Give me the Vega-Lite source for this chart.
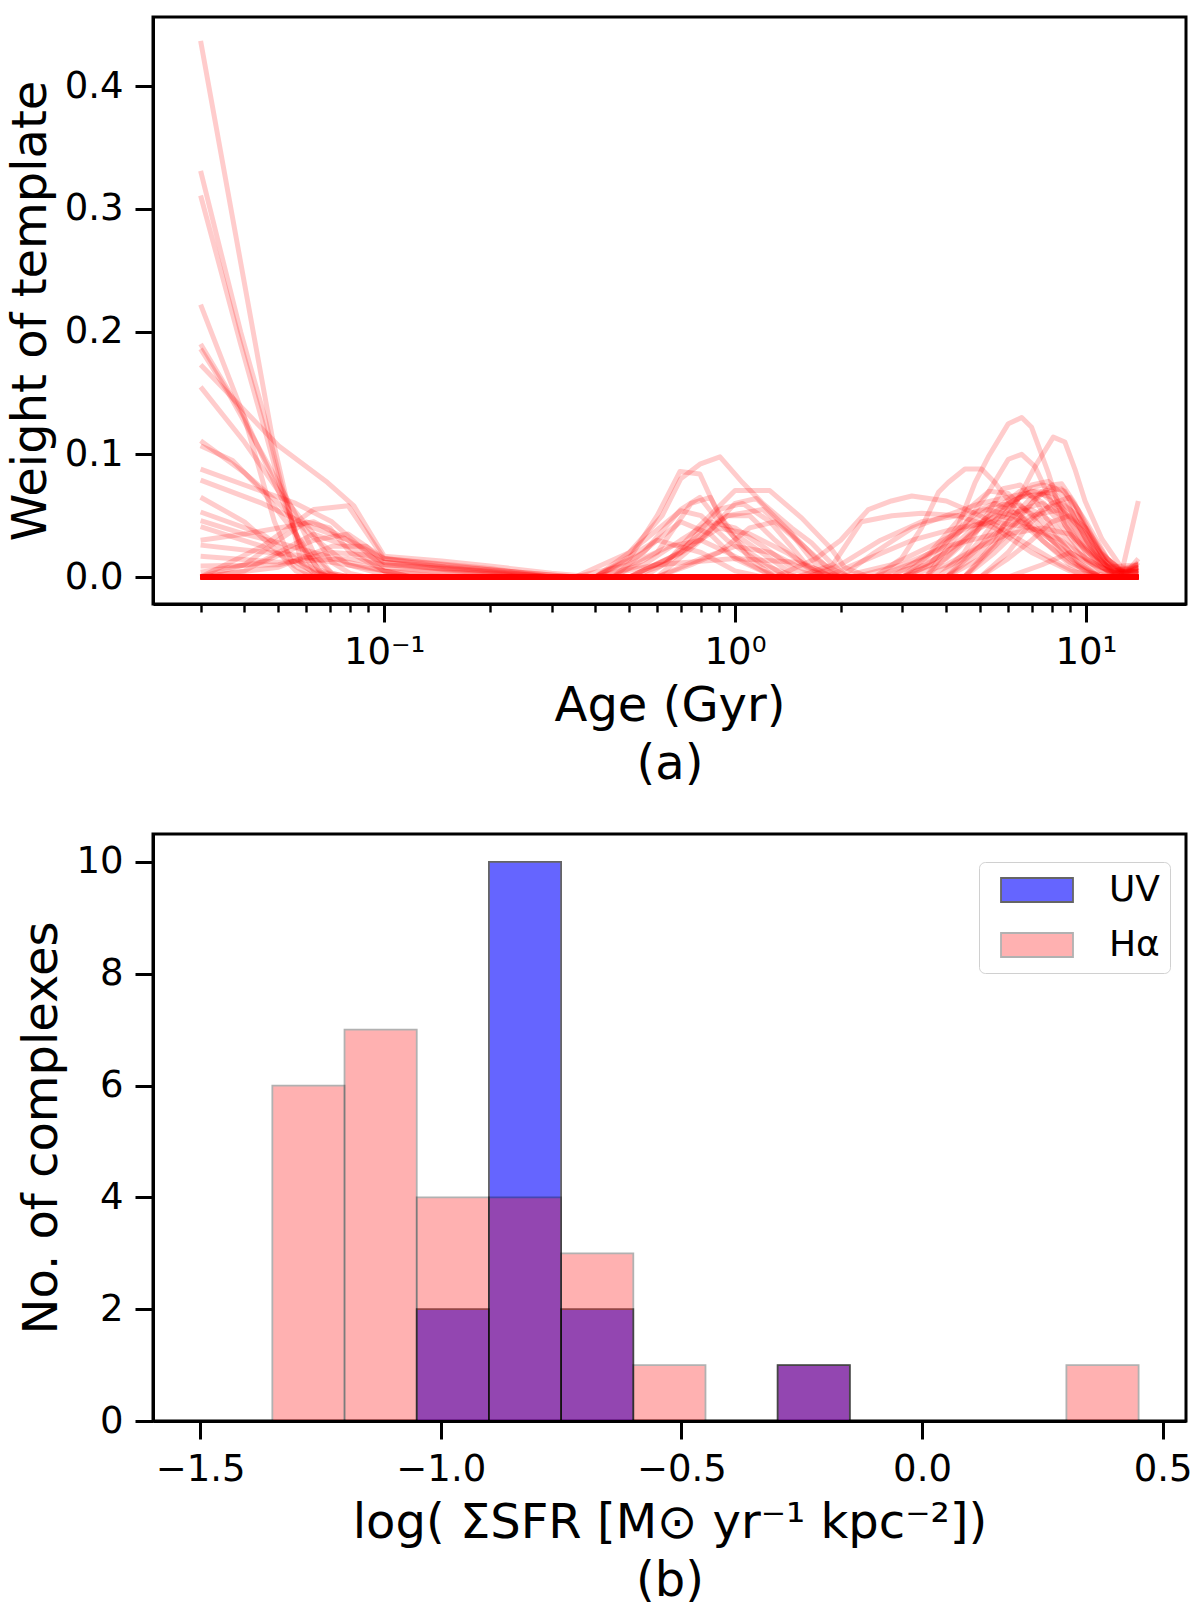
{
  "$schema": "https://vega.github.io/schema/vega-lite/v6.json",
  "description": "Template weights vs age (a) and histogram of SFR surface density (b)",
  "background": "white",
  "padding": {"left": 5, "top": 15, "right": 0, "bottom": 0},
  "spacing": 42,
  "config": {
    "font": "DejaVu Sans",
    "view": {"stroke": "black", "strokeWidth": 3},
    "axis": {
      "grid": false,
      "domainColor": "black",
      "domainWidth": 3,
      "tickColor": "black",
      "tickWidth": 3,
      "tickSize": 18,
      "labelFontSize": 37,
      "labelColor": "black",
      "labelPadding": 12,
      "titleFontSize": 48,
      "titleFontWeight": "normal",
      "titleColor": "black",
      "titlePadding": 9
    }
  },
  "vconcat": [
    {
      "width": 1033,
      "height": 587,
      "data": {
        "values": [
          {"id": "e1", "a": 0.03, "w": 0.437}, {"id": "e1", "a": 0.048, "w": 0.114}, {"id": "e1", "a": 0.058, "w": 0.012}, {"id": "e1", "a": 0.07, "w": 0}, {"id": "e1", "a": 14.1, "w": 0},
          {"id": "e2", "a": 0.03, "w": 0.331}, {"id": "e2", "a": 0.039, "w": 0.2}, {"id": "e2", "a": 0.0457, "w": 0.13}, {"id": "e2", "a": 0.051, "w": 0.075}, {"id": "e2", "a": 0.057, "w": 0.028}, {"id": "e2", "a": 0.063, "w": 0.005}, {"id": "e2", "a": 0.07, "w": 0}, {"id": "e2", "a": 14.1, "w": 0},
          {"id": "e3", "a": 0.03, "w": 0.311}, {"id": "e3", "a": 0.039, "w": 0.19}, {"id": "e3", "a": 0.0457, "w": 0.12}, {"id": "e3", "a": 0.051, "w": 0.07}, {"id": "e3", "a": 0.057, "w": 0.03}, {"id": "e3", "a": 0.065, "w": 0.006}, {"id": "e3", "a": 0.075, "w": 0}, {"id": "e3", "a": 14.1, "w": 0},
          {"id": "e4", "a": 0.03, "w": 0.222}, {"id": "e4", "a": 0.04, "w": 0.13}, {"id": "e4", "a": 0.0487, "w": 0.045}, {"id": "e4", "a": 0.055, "w": 0.01}, {"id": "e4", "a": 0.063, "w": 0}, {"id": "e4", "a": 14.1, "w": 0},
          {"id": "e5", "a": 0.03, "w": 0.19}, {"id": "e5", "a": 0.04, "w": 0.13}, {"id": "e5", "a": 0.05, "w": 0.07}, {"id": "e5", "a": 0.058, "w": 0.025}, {"id": "e5", "a": 0.066, "w": 0.004}, {"id": "e5", "a": 0.075, "w": 0}, {"id": "e5", "a": 14.1, "w": 0},
          {"id": "e6", "a": 0.03, "w": 0.186}, {"id": "e6", "a": 0.036, "w": 0.15}, {"id": "e6", "a": 0.045, "w": 0.1}, {"id": "e6", "a": 0.055, "w": 0.055}, {"id": "e6", "a": 0.063, "w": 0.02}, {"id": "e6", "a": 0.071, "w": 0.003}, {"id": "e6", "a": 0.08, "w": 0}, {"id": "e6", "a": 14.1, "w": 0},
          {"id": "e7", "a": 0.03, "w": 0.173}, {"id": "e7", "a": 0.05, "w": 0.107}, {"id": "e7", "a": 0.069, "w": 0.077}, {"id": "e7", "a": 0.082, "w": 0.058}, {"id": "e7", "a": 0.1, "w": 0.017}, {"id": "e7", "a": 0.146, "w": 0.013}, {"id": "e7", "a": 0.2, "w": 0.009}, {"id": "e7", "a": 0.3, "w": 0.003}, {"id": "e7", "a": 0.4, "w": 0}, {"id": "e7", "a": 14.1, "w": 0},
          {"id": "e8", "a": 0.03, "w": 0.155}, {"id": "e8", "a": 0.04, "w": 0.11}, {"id": "e8", "a": 0.05, "w": 0.07}, {"id": "e8", "a": 0.063, "w": 0.035}, {"id": "e8", "a": 0.071, "w": 0.012}, {"id": "e8", "a": 0.08, "w": 0.003}, {"id": "e8", "a": 0.089, "w": 0}, {"id": "e8", "a": 14.1, "w": 0},
          {"id": "e9", "a": 0.03, "w": 0.111}, {"id": "e9", "a": 0.04, "w": 0.085}, {"id": "e9", "a": 0.05, "w": 0.06}, {"id": "e9", "a": 0.063, "w": 0.032}, {"id": "e9", "a": 0.079, "w": 0.01}, {"id": "e9", "a": 0.1, "w": 0.002}, {"id": "e9", "a": 0.12, "w": 0}, {"id": "e9", "a": 14.1, "w": 0},
          {"id": "e10", "a": 0.03, "w": 0.107}, {"id": "e10", "a": 0.037, "w": 0.095}, {"id": "e10", "a": 0.045, "w": 0.07}, {"id": "e10", "a": 0.056, "w": 0.035}, {"id": "e10", "a": 0.063, "w": 0.015}, {"id": "e10", "a": 0.071, "w": 0.003}, {"id": "e10", "a": 0.08, "w": 0}, {"id": "e10", "a": 14.1, "w": 0},
          {"id": "e11", "a": 0.03, "w": 0.088}, {"id": "e11", "a": 0.04, "w": 0.075}, {"id": "e11", "a": 0.056, "w": 0.06}, {"id": "e11", "a": 0.071, "w": 0.045}, {"id": "e11", "a": 0.089, "w": 0.02}, {"id": "e11", "a": 0.1, "w": 0.008}, {"id": "e11", "a": 0.15, "w": 0.004}, {"id": "e11", "a": 0.25, "w": 0}, {"id": "e11", "a": 14.1, "w": 0},
          {"id": "e12", "a": 0.03, "w": 0.079}, {"id": "e12", "a": 0.045, "w": 0.06}, {"id": "e12", "a": 0.063, "w": 0.04}, {"id": "e12", "a": 0.079, "w": 0.03}, {"id": "e12", "a": 0.1, "w": 0.01}, {"id": "e12", "a": 0.2, "w": 0.005}, {"id": "e12", "a": 0.3, "w": 0}, {"id": "e12", "a": 14.1, "w": 0},
          {"id": "e13", "a": 0.03, "w": 0.065}, {"id": "e13", "a": 0.04, "w": 0.045}, {"id": "e13", "a": 0.05, "w": 0.02}, {"id": "e13", "a": 0.056, "w": 0.005}, {"id": "e13", "a": 0.063, "w": 0}, {"id": "e13", "a": 14.1, "w": 0},
          {"id": "e14", "a": 0.03, "w": 0.053}, {"id": "e14", "a": 0.045, "w": 0.035}, {"id": "e14", "a": 0.056, "w": 0.015}, {"id": "e14", "a": 0.063, "w": 0.003}, {"id": "e14", "a": 0.071, "w": 0}, {"id": "e14", "a": 14.1, "w": 0},
          {"id": "e15", "a": 0.03, "w": 0.046}, {"id": "e15", "a": 0.04, "w": 0.035}, {"id": "e15", "a": 0.05, "w": 0.028}, {"id": "e15", "a": 0.063, "w": 0.02}, {"id": "e15", "a": 0.079, "w": 0.012}, {"id": "e15", "a": 0.1, "w": 0.005}, {"id": "e15", "a": 0.15, "w": 0}, {"id": "e15", "a": 14.1, "w": 0},
          {"id": "e16", "a": 0.03, "w": 0.041}, {"id": "e16", "a": 0.045, "w": 0.025}, {"id": "e16", "a": 0.056, "w": 0.012}, {"id": "e16", "a": 0.063, "w": 0.004}, {"id": "e16", "a": 0.071, "w": 0}, {"id": "e16", "a": 14.1, "w": 0},
          {"id": "e17", "a": 0.03, "w": 0.026}, {"id": "e17", "a": 0.04, "w": 0.022}, {"id": "e17", "a": 0.056, "w": 0.018}, {"id": "e17", "a": 0.071, "w": 0.012}, {"id": "e17", "a": 0.1, "w": 0.005}, {"id": "e17", "a": 0.2, "w": 0.003}, {"id": "e17", "a": 0.3, "w": 0}, {"id": "e17", "a": 14.1, "w": 0},
          {"id": "e18", "a": 0.03, "w": 0.017}, {"id": "e18", "a": 0.05, "w": 0.012}, {"id": "e18", "a": 0.079, "w": 0.015}, {"id": "e18", "a": 0.1, "w": 0.01}, {"id": "e18", "a": 0.2, "w": 0.004}, {"id": "e18", "a": 0.3, "w": 0}, {"id": "e18", "a": 14.1, "w": 0},
          {"id": "e19", "a": 0.03, "w": 0.009}, {"id": "e19", "a": 0.05, "w": 0.01}, {"id": "e19", "a": 0.071, "w": 0.02}, {"id": "e19", "a": 0.089, "w": 0.018}, {"id": "e19", "a": 0.1, "w": 0.012}, {"id": "e19", "a": 0.2, "w": 0.006}, {"id": "e19", "a": 0.35, "w": 0}, {"id": "e19", "a": 14.1, "w": 0},
          {"id": "e20", "a": 0.03, "w": 0}, {"id": "e20", "a": 0.045, "w": 0.025}, {"id": "e20", "a": 0.063, "w": 0.055}, {"id": "e20", "a": 0.079, "w": 0.058}, {"id": "e20", "a": 0.1, "w": 0.015}, {"id": "e20", "a": 0.15, "w": 0.008}, {"id": "e20", "a": 0.3, "w": 0}, {"id": "e20", "a": 14.1, "w": 0},
          {"id": "e21", "a": 0.03, "w": 0.004}, {"id": "e21", "a": 0.045, "w": 0.012}, {"id": "e21", "a": 0.063, "w": 0.03}, {"id": "e21", "a": 0.079, "w": 0.035}, {"id": "e21", "a": 0.1, "w": 0.015}, {"id": "e21", "a": 0.2, "w": 0.006}, {"id": "e21", "a": 0.35, "w": 0}, {"id": "e21", "a": 14.1, "w": 0},
          {"id": "e22", "a": 0.03, "w": 0}, {"id": "e22", "a": 0.04, "w": 0.005}, {"id": "e22", "a": 0.05, "w": 0.02}, {"id": "e22", "a": 0.063, "w": 0.035}, {"id": "e22", "a": 0.079, "w": 0.025}, {"id": "e22", "a": 0.1, "w": 0.005}, {"id": "e22", "a": 0.12, "w": 0}, {"id": "e22", "a": 14.1, "w": 0},
          {"id": "e23", "a": 0.03, "w": 0}, {"id": "e23", "a": 0.05, "w": 0.008}, {"id": "e23", "a": 0.071, "w": 0.025}, {"id": "e23", "a": 0.089, "w": 0.025}, {"id": "e23", "a": 0.1, "w": 0.012}, {"id": "e23", "a": 0.15, "w": 0.006}, {"id": "e23", "a": 0.25, "w": 0}, {"id": "e23", "a": 14.1, "w": 0},
          {"id": "e24", "a": 0.03, "w": 0}, {"id": "e24", "a": 0.04, "w": 0.01}, {"id": "e24", "a": 0.05, "w": 0.03}, {"id": "e24", "a": 0.06, "w": 0.045}, {"id": "e24", "a": 0.07, "w": 0.04}, {"id": "e24", "a": 0.08, "w": 0.02}, {"id": "e24", "a": 0.1, "w": 0.005}, {"id": "e24", "a": 0.12, "w": 0}, {"id": "e24", "a": 14.1, "w": 0},
          {"id": "e25", "a": 0.03, "w": 0.03}, {"id": "e25", "a": 0.04, "w": 0.035}, {"id": "e25", "a": 0.05, "w": 0.04}, {"id": "e25", "a": 0.063, "w": 0.045}, {"id": "e25", "a": 0.079, "w": 0.03}, {"id": "e25", "a": 0.1, "w": 0.015}, {"id": "e25", "a": 0.2, "w": 0.007}, {"id": "e25", "a": 0.3, "w": 0}, {"id": "e25", "a": 14.1, "w": 0},
          {"id": "m1", "a": 0.03, "w": 0}, {"id": "m1", "a": 0.4, "w": 0}, {"id": "m1", "a": 0.5, "w": 0.02}, {"id": "m1", "a": 0.62, "w": 0.05}, {"id": "m1", "a": 0.7, "w": 0.08}, {"id": "m1", "a": 0.794, "w": 0.092}, {"id": "m1", "a": 0.906, "w": 0.098}, {"id": "m1", "a": 1.05, "w": 0.077}, {"id": "m1", "a": 1.2, "w": 0.06}, {"id": "m1", "a": 1.45, "w": 0.04}, {"id": "m1", "a": 1.65, "w": 0.028}, {"id": "m1", "a": 1.9, "w": 0.01}, {"id": "m1", "a": 2.1, "w": 0}, {"id": "m1", "a": 14.1, "w": 0},
          {"id": "m2", "a": 0.03, "w": 0}, {"id": "m2", "a": 0.4, "w": 0}, {"id": "m2", "a": 0.5, "w": 0.015}, {"id": "m2", "a": 0.6, "w": 0.05}, {"id": "m2", "a": 0.697, "w": 0.086}, {"id": "m2", "a": 0.794, "w": 0.084}, {"id": "m2", "a": 0.9, "w": 0.05}, {"id": "m2", "a": 1.0, "w": 0.035}, {"id": "m2", "a": 1.26, "w": 0.015}, {"id": "m2", "a": 1.5, "w": 0}, {"id": "m2", "a": 14.1, "w": 0},
          {"id": "m3", "a": 0.03, "w": 0}, {"id": "m3", "a": 0.5, "w": 0}, {"id": "m3", "a": 0.63, "w": 0.01}, {"id": "m3", "a": 0.794, "w": 0.042}, {"id": "m3", "a": 1.0, "w": 0.0705}, {"id": "m3", "a": 1.256, "w": 0.0705}, {"id": "m3", "a": 1.55, "w": 0.048}, {"id": "m3", "a": 1.88, "w": 0.023}, {"id": "m3", "a": 2.05, "w": 0.008}, {"id": "m3", "a": 2.4, "w": 0}, {"id": "m3", "a": 14.1, "w": 0},
          {"id": "m4", "a": 0.03, "w": 0}, {"id": "m4", "a": 0.4, "w": 0}, {"id": "m4", "a": 0.55, "w": 0.02}, {"id": "m4", "a": 0.7, "w": 0.055}, {"id": "m4", "a": 0.794, "w": 0.065}, {"id": "m4", "a": 0.9, "w": 0.045}, {"id": "m4", "a": 1.1, "w": 0.02}, {"id": "m4", "a": 1.4, "w": 0}, {"id": "m4", "a": 14.1, "w": 0},
          {"id": "m5", "a": 0.03, "w": 0}, {"id": "m5", "a": 0.35, "w": 0}, {"id": "m5", "a": 0.5, "w": 0.02}, {"id": "m5", "a": 0.7, "w": 0.054}, {"id": "m5", "a": 0.8, "w": 0.05}, {"id": "m5", "a": 0.95, "w": 0.03}, {"id": "m5", "a": 1.2, "w": 0.01}, {"id": "m5", "a": 1.5, "w": 0}, {"id": "m5", "a": 14.1, "w": 0},
          {"id": "m6", "a": 0.03, "w": 0}, {"id": "m6", "a": 0.5, "w": 0}, {"id": "m6", "a": 0.7, "w": 0.02}, {"id": "m6", "a": 0.9, "w": 0.055}, {"id": "m6", "a": 1.05, "w": 0.06}, {"id": "m6", "a": 1.26, "w": 0.045}, {"id": "m6", "a": 1.6, "w": 0.01}, {"id": "m6", "a": 1.9, "w": 0}, {"id": "m6", "a": 14.1, "w": 0},
          {"id": "m7", "a": 0.03, "w": 0}, {"id": "m7", "a": 0.45, "w": 0}, {"id": "m7", "a": 0.6, "w": 0.03}, {"id": "m7", "a": 0.7, "w": 0.045}, {"id": "m7", "a": 0.85, "w": 0.035}, {"id": "m7", "a": 1.0, "w": 0.015}, {"id": "m7", "a": 1.3, "w": 0}, {"id": "m7", "a": 14.1, "w": 0},
          {"id": "m8", "a": 0.03, "w": 0}, {"id": "m8", "a": 0.5, "w": 0}, {"id": "m8", "a": 0.7, "w": 0.02}, {"id": "m8", "a": 0.9, "w": 0.04}, {"id": "m8", "a": 1.1, "w": 0.035}, {"id": "m8", "a": 1.4, "w": 0.02}, {"id": "m8", "a": 1.8, "w": 0}, {"id": "m8", "a": 14.1, "w": 0},
          {"id": "m9", "a": 0.03, "w": 0}, {"id": "m9", "a": 0.4, "w": 0}, {"id": "m9", "a": 0.6, "w": 0.03}, {"id": "m9", "a": 0.8, "w": 0.02}, {"id": "m9", "a": 1.0, "w": 0.005}, {"id": "m9", "a": 1.2, "w": 0}, {"id": "m9", "a": 14.1, "w": 0},
          {"id": "m10", "a": 0.03, "w": 0}, {"id": "m10", "a": 0.6, "w": 0}, {"id": "m10", "a": 0.8, "w": 0.015}, {"id": "m10", "a": 1.0, "w": 0.025}, {"id": "m10", "a": 1.26, "w": 0.02}, {"id": "m10", "a": 1.6, "w": 0.005}, {"id": "m10", "a": 2.0, "w": 0}, {"id": "m10", "a": 14.1, "w": 0},
          {"id": "m11", "a": 0.03, "w": 0}, {"id": "m11", "a": 0.4, "w": 0}, {"id": "m11", "a": 0.6, "w": 0.01}, {"id": "m11", "a": 1.0, "w": 0.015}, {"id": "m11", "a": 1.5, "w": 0.012}, {"id": "m11", "a": 2.0, "w": 0}, {"id": "m11", "a": 14.1, "w": 0},
          {"id": "m12", "a": 0.03, "w": 0}, {"id": "m12", "a": 0.6, "w": 0}, {"id": "m12", "a": 0.8, "w": 0.03}, {"id": "m12", "a": 1.0, "w": 0.06}, {"id": "m12", "a": 1.15, "w": 0.064}, {"id": "m12", "a": 1.4, "w": 0.04}, {"id": "m12", "a": 1.7, "w": 0.015}, {"id": "m12", "a": 2.0, "w": 0}, {"id": "m12", "a": 14.1, "w": 0},
          {"id": "m13", "a": 0.03, "w": 0}, {"id": "m13", "a": 0.4, "w": 0}, {"id": "m13", "a": 0.55, "w": 0.01}, {"id": "m13", "a": 0.7, "w": 0.03}, {"id": "m13", "a": 0.85, "w": 0.045}, {"id": "m13", "a": 1.0, "w": 0.04}, {"id": "m13", "a": 1.2, "w": 0.025}, {"id": "m13", "a": 1.5, "w": 0.005}, {"id": "m13", "a": 1.8, "w": 0}, {"id": "m13", "a": 14.1, "w": 0},
          {"id": "m14", "a": 0.03, "w": 0}, {"id": "m14", "a": 0.5, "w": 0}, {"id": "m14", "a": 0.65, "w": 0.015}, {"id": "m14", "a": 0.8, "w": 0.035}, {"id": "m14", "a": 0.95, "w": 0.05}, {"id": "m14", "a": 1.1, "w": 0.05}, {"id": "m14", "a": 1.3, "w": 0.03}, {"id": "m14", "a": 1.6, "w": 0.008}, {"id": "m14", "a": 1.9, "w": 0}, {"id": "m14", "a": 14.1, "w": 0},
          {"id": "m15", "a": 0.03, "w": 0}, {"id": "m15", "a": 0.35, "w": 0}, {"id": "m15", "a": 0.5, "w": 0.01}, {"id": "m15", "a": 0.65, "w": 0.025}, {"id": "m15", "a": 0.8, "w": 0.03}, {"id": "m15", "a": 0.95, "w": 0.02}, {"id": "m15", "a": 1.2, "w": 0.005}, {"id": "m15", "a": 1.4, "w": 0}, {"id": "m15", "a": 14.1, "w": 0},
          {"id": "m16", "a": 0.03, "w": 0}, {"id": "m16", "a": 0.45, "w": 0}, {"id": "m16", "a": 0.6, "w": 0.02}, {"id": "m16", "a": 0.75, "w": 0.06}, {"id": "m16", "a": 0.85, "w": 0.065}, {"id": "m16", "a": 0.95, "w": 0.04}, {"id": "m16", "a": 1.1, "w": 0.015}, {"id": "m16", "a": 1.3, "w": 0}, {"id": "m16", "a": 14.1, "w": 0},
          {"id": "m17", "a": 0.03, "w": 0}, {"id": "m17", "a": 0.6, "w": 0}, {"id": "m17", "a": 0.75, "w": 0.01}, {"id": "m17", "a": 0.9, "w": 0.02}, {"id": "m17", "a": 1.1, "w": 0.04}, {"id": "m17", "a": 1.3, "w": 0.045}, {"id": "m17", "a": 1.5, "w": 0.03}, {"id": "m17", "a": 1.8, "w": 0.01}, {"id": "m17", "a": 2.1, "w": 0}, {"id": "m17", "a": 14.1, "w": 0},
          {"id": "m18", "a": 0.03, "w": 0}, {"id": "m18", "a": 0.55, "w": 0}, {"id": "m18", "a": 0.75, "w": 0.025}, {"id": "m18", "a": 0.95, "w": 0.05}, {"id": "m18", "a": 1.2, "w": 0.055}, {"id": "m18", "a": 1.45, "w": 0.035}, {"id": "m18", "a": 1.7, "w": 0.01}, {"id": "m18", "a": 2.0, "w": 0}, {"id": "m18", "a": 14.1, "w": 0},
          {"id": "r1", "a": 0.03, "w": 0}, {"id": "r1", "a": 3.0, "w": 0}, {"id": "r1", "a": 3.6, "w": 0.01}, {"id": "r1", "a": 4.33, "w": 0.042}, {"id": "r1", "a": 4.83, "w": 0.077}, {"id": "r1", "a": 5.27, "w": 0.098}, {"id": "r1", "a": 6.01, "w": 0.125}, {"id": "r1", "a": 6.56, "w": 0.13}, {"id": "r1", "a": 7.0, "w": 0.122}, {"id": "r1", "a": 7.81, "w": 0.085}, {"id": "r1", "a": 8.71, "w": 0.042}, {"id": "r1", "a": 9.94, "w": 0.023}, {"id": "r1", "a": 11.1, "w": 0.008}, {"id": "r1", "a": 12.6, "w": 0}, {"id": "r1", "a": 14.1, "w": 0},
          {"id": "r2", "a": 0.03, "w": 0}, {"id": "r2", "a": 4.5, "w": 0}, {"id": "r2", "a": 5.5, "w": 0.028}, {"id": "r2", "a": 6.0, "w": 0.05}, {"id": "r2", "a": 6.56, "w": 0.069}, {"id": "r2", "a": 7.16, "w": 0.09}, {"id": "r2", "a": 8.07, "w": 0.114}, {"id": "r2", "a": 8.71, "w": 0.11}, {"id": "r2", "a": 9.3, "w": 0.088}, {"id": "r2", "a": 9.94, "w": 0.062}, {"id": "r2", "a": 11.1, "w": 0.031}, {"id": "r2", "a": 12.6, "w": 0.008}, {"id": "r2", "a": 14.1, "w": 0.003},
          {"id": "r3", "a": 0.03, "w": 0}, {"id": "r3", "a": 3.5, "w": 0}, {"id": "r3", "a": 4.5, "w": 0.042}, {"id": "r3", "a": 5.27, "w": 0.069}, {"id": "r3", "a": 6.01, "w": 0.096}, {"id": "r3", "a": 6.56, "w": 0.1}, {"id": "r3", "a": 7.16, "w": 0.09}, {"id": "r3", "a": 8.0, "w": 0.06}, {"id": "r3", "a": 9.3, "w": 0.03}, {"id": "r3", "a": 11.1, "w": 0.01}, {"id": "r3", "a": 12.6, "w": 0}, {"id": "r3", "a": 14.1, "w": 0},
          {"id": "r4", "a": 0.03, "w": 0}, {"id": "r4", "a": 2.5, "w": 0}, {"id": "r4", "a": 2.98, "w": 0.015}, {"id": "r4", "a": 3.4, "w": 0.04}, {"id": "r4", "a": 3.8, "w": 0.069}, {"id": "r4", "a": 4.05, "w": 0.077}, {"id": "r4", "a": 4.52, "w": 0.088}, {"id": "r4", "a": 5.04, "w": 0.088}, {"id": "r4", "a": 5.5, "w": 0.077}, {"id": "r4", "a": 6.5, "w": 0.05}, {"id": "r4", "a": 7.5, "w": 0.03}, {"id": "r4", "a": 9.0, "w": 0.01}, {"id": "r4", "a": 11.0, "w": 0}, {"id": "r4", "a": 14.1, "w": 0},
          {"id": "r5", "a": 0.03, "w": 0}, {"id": "r5", "a": 1.3, "w": 0}, {"id": "r5", "a": 1.7, "w": 0.015}, {"id": "r5", "a": 2.0, "w": 0.03}, {"id": "r5", "a": 2.4, "w": 0.055}, {"id": "r5", "a": 2.79, "w": 0.062}, {"id": "r5", "a": 3.19, "w": 0.066}, {"id": "r5", "a": 4.0, "w": 0.062}, {"id": "r5", "a": 5.0, "w": 0.05}, {"id": "r5", "a": 6.5, "w": 0.03}, {"id": "r5", "a": 8.5, "w": 0.01}, {"id": "r5", "a": 10.0, "w": 0}, {"id": "r5", "a": 14.1, "w": 0},
          {"id": "r6", "a": 0.03, "w": 0}, {"id": "r6", "a": 1.5, "w": 0}, {"id": "r6", "a": 1.9, "w": 0.01}, {"id": "r6", "a": 2.29, "w": 0.045}, {"id": "r6", "a": 2.8, "w": 0.05}, {"id": "r6", "a": 3.4, "w": 0.052}, {"id": "r6", "a": 4.3, "w": 0.05}, {"id": "r6", "a": 5.5, "w": 0.04}, {"id": "r6", "a": 7.0, "w": 0.02}, {"id": "r6", "a": 9.0, "w": 0.005}, {"id": "r6", "a": 11.0, "w": 0}, {"id": "r6", "a": 14.1, "w": 0},
          {"id": "r7", "a": 0.03, "w": 0}, {"id": "r7", "a": 2.0, "w": 0}, {"id": "r7", "a": 2.5, "w": 0.02}, {"id": "r7", "a": 3.2, "w": 0.04}, {"id": "r7", "a": 4.0, "w": 0.05}, {"id": "r7", "a": 5.0, "w": 0.06}, {"id": "r7", "a": 6.0, "w": 0.065}, {"id": "r7", "a": 7.16, "w": 0.07}, {"id": "r7", "a": 8.07, "w": 0.068}, {"id": "r7", "a": 9.3, "w": 0.04}, {"id": "r7", "a": 11.0, "w": 0.012}, {"id": "r7", "a": 12.6, "w": 0.003}, {"id": "r7", "a": 14.1, "w": 0.005},
          {"id": "r8", "a": 0.03, "w": 0}, {"id": "r8", "a": 4.0, "w": 0}, {"id": "r8", "a": 5.0, "w": 0.015}, {"id": "r8", "a": 6.0, "w": 0.035}, {"id": "r8", "a": 7.0, "w": 0.06}, {"id": "r8", "a": 8.0, "w": 0.075}, {"id": "r8", "a": 8.53, "w": 0.076}, {"id": "r8", "a": 9.3, "w": 0.06}, {"id": "r8", "a": 10.5, "w": 0.025}, {"id": "r8", "a": 12.0, "w": 0.005}, {"id": "r8", "a": 14.1, "w": 0.008},
          {"id": "r9", "a": 0.03, "w": 0}, {"id": "r9", "a": 3.0, "w": 0}, {"id": "r9", "a": 4.0, "w": 0.02}, {"id": "r9", "a": 5.0, "w": 0.045}, {"id": "r9", "a": 6.0, "w": 0.06}, {"id": "r9", "a": 7.0, "w": 0.07}, {"id": "r9", "a": 8.0, "w": 0.065}, {"id": "r9", "a": 9.3, "w": 0.045}, {"id": "r9", "a": 11.0, "w": 0.015}, {"id": "r9", "a": 12.6, "w": 0.004}, {"id": "r9", "a": 14.1, "w": 0.006},
          {"id": "r10", "a": 0.03, "w": 0}, {"id": "r10", "a": 3.5, "w": 0}, {"id": "r10", "a": 4.5, "w": 0.03}, {"id": "r10", "a": 5.5, "w": 0.055}, {"id": "r10", "a": 6.5, "w": 0.07}, {"id": "r10", "a": 7.5, "w": 0.075}, {"id": "r10", "a": 8.7, "w": 0.07}, {"id": "r10", "a": 9.9, "w": 0.04}, {"id": "r10", "a": 11.5, "w": 0.01}, {"id": "r10", "a": 13.0, "w": 0.002}, {"id": "r10", "a": 14.1, "w": 0.004},
          {"id": "r11", "a": 0.03, "w": 0}, {"id": "r11", "a": 4.0, "w": 0}, {"id": "r11", "a": 5.0, "w": 0.025}, {"id": "r11", "a": 6.0, "w": 0.055}, {"id": "r11", "a": 7.0, "w": 0.075}, {"id": "r11", "a": 7.8, "w": 0.078}, {"id": "r11", "a": 8.7, "w": 0.065}, {"id": "r11", "a": 10.0, "w": 0.03}, {"id": "r11", "a": 11.5, "w": 0.008}, {"id": "r11", "a": 14.1, "w": 0.01},
          {"id": "r12", "a": 0.03, "w": 0}, {"id": "r12", "a": 2.5, "w": 0}, {"id": "r12", "a": 3.5, "w": 0.015}, {"id": "r12", "a": 4.5, "w": 0.04}, {"id": "r12", "a": 5.5, "w": 0.06}, {"id": "r12", "a": 6.5, "w": 0.058}, {"id": "r12", "a": 7.5, "w": 0.045}, {"id": "r12", "a": 9.0, "w": 0.02}, {"id": "r12", "a": 11.0, "w": 0.005}, {"id": "r12", "a": 12.6, "w": 0}, {"id": "r12", "a": 14.1, "w": 0},
          {"id": "r13", "a": 0.03, "w": 0}, {"id": "r13", "a": 3.0, "w": 0}, {"id": "r13", "a": 4.0, "w": 0.03}, {"id": "r13", "a": 5.0, "w": 0.055}, {"id": "r13", "a": 5.5, "w": 0.06}, {"id": "r13", "a": 6.5, "w": 0.05}, {"id": "r13", "a": 8.0, "w": 0.03}, {"id": "r13", "a": 9.5, "w": 0.01}, {"id": "r13", "a": 11.0, "w": 0}, {"id": "r13", "a": 14.1, "w": 0},
          {"id": "r14", "a": 0.03, "w": 0}, {"id": "r14", "a": 4.5, "w": 0}, {"id": "r14", "a": 5.5, "w": 0.02}, {"id": "r14", "a": 6.5, "w": 0.04}, {"id": "r14", "a": 7.5, "w": 0.055}, {"id": "r14", "a": 8.5, "w": 0.06}, {"id": "r14", "a": 9.5, "w": 0.05}, {"id": "r14", "a": 11.0, "w": 0.02}, {"id": "r14", "a": 12.6, "w": 0.005}, {"id": "r14", "a": 14.1, "w": 0.01},
          {"id": "r15", "a": 0.03, "w": 0}, {"id": "r15", "a": 1.8, "w": 0}, {"id": "r15", "a": 2.4, "w": 0.015}, {"id": "r15", "a": 3.2, "w": 0.03}, {"id": "r15", "a": 4.3, "w": 0.04}, {"id": "r15", "a": 5.5, "w": 0.045}, {"id": "r15", "a": 7.0, "w": 0.04}, {"id": "r15", "a": 8.5, "w": 0.03}, {"id": "r15", "a": 10.0, "w": 0.015}, {"id": "r15", "a": 12.0, "w": 0.003}, {"id": "r15", "a": 14.1, "w": 0.005},
          {"id": "r16", "a": 0.03, "w": 0}, {"id": "r16", "a": 5.0, "w": 0}, {"id": "r16", "a": 6.0, "w": 0.02}, {"id": "r16", "a": 7.0, "w": 0.045}, {"id": "r16", "a": 8.0, "w": 0.06}, {"id": "r16", "a": 9.0, "w": 0.065}, {"id": "r16", "a": 10.0, "w": 0.045}, {"id": "r16", "a": 11.5, "w": 0.015}, {"id": "r16", "a": 13.0, "w": 0.002}, {"id": "r16", "a": 14.1, "w": 0.012},
          {"id": "r17", "a": 0.03, "w": 0}, {"id": "r17", "a": 6.0, "w": 0}, {"id": "r17", "a": 7.5, "w": 0.01}, {"id": "r17", "a": 9.0, "w": 0.02}, {"id": "r17", "a": 10.5, "w": 0.01}, {"id": "r17", "a": 12.6, "w": 0.002}, {"id": "r17", "a": 14.1, "w": 0.062},
          {"id": "r18", "a": 0.03, "w": 0}, {"id": "r18", "a": 2.2, "w": 0}, {"id": "r18", "a": 3.0, "w": 0.01}, {"id": "r18", "a": 4.0, "w": 0.025}, {"id": "r18", "a": 5.5, "w": 0.035}, {"id": "r18", "a": 7.0, "w": 0.05}, {"id": "r18", "a": 8.5, "w": 0.055}, {"id": "r18", "a": 10.0, "w": 0.035}, {"id": "r18", "a": 11.5, "w": 0.012}, {"id": "r18", "a": 13.0, "w": 0.003}, {"id": "r18", "a": 14.1, "w": 0.008},
          {"id": "r19", "a": 0.03, "w": 0}, {"id": "r19", "a": 3.8, "w": 0}, {"id": "r19", "a": 4.5, "w": 0.02}, {"id": "r19", "a": 5.2, "w": 0.05}, {"id": "r19", "a": 5.8, "w": 0.072}, {"id": "r19", "a": 6.5, "w": 0.075}, {"id": "r19", "a": 7.2, "w": 0.062}, {"id": "r19", "a": 8.2, "w": 0.035}, {"id": "r19", "a": 9.5, "w": 0.012}, {"id": "r19", "a": 11.0, "w": 0}, {"id": "r19", "a": 14.1, "w": 0},
          {"id": "r20", "a": 0.03, "w": 0}, {"id": "r20", "a": 2.8, "w": 0}, {"id": "r20", "a": 3.6, "w": 0.02}, {"id": "r20", "a": 4.6, "w": 0.055}, {"id": "r20", "a": 5.3, "w": 0.07}, {"id": "r20", "a": 6.0, "w": 0.068}, {"id": "r20", "a": 7.0, "w": 0.05}, {"id": "r20", "a": 8.5, "w": 0.02}, {"id": "r20", "a": 10.0, "w": 0.004}, {"id": "r20", "a": 12.0, "w": 0}, {"id": "r20", "a": 14.1, "w": 0},
          {"id": "r21", "a": 0.03, "w": 0}, {"id": "r21", "a": 2.5, "w": 0}, {"id": "r21", "a": 3.5, "w": 0.01}, {"id": "r21", "a": 4.5, "w": 0.03}, {"id": "r21", "a": 5.5, "w": 0.05}, {"id": "r21", "a": 6.5, "w": 0.065}, {"id": "r21", "a": 7.5, "w": 0.068}, {"id": "r21", "a": 8.5, "w": 0.055}, {"id": "r21", "a": 10.0, "w": 0.025}, {"id": "r21", "a": 12.0, "w": 0.004}, {"id": "r21", "a": 14.1, "w": 0.006},
          {"id": "r22", "a": 0.03, "w": 0}, {"id": "r22", "a": 3.0, "w": 0}, {"id": "r22", "a": 4.0, "w": 0.015}, {"id": "r22", "a": 5.0, "w": 0.04}, {"id": "r22", "a": 6.0, "w": 0.052}, {"id": "r22", "a": 7.0, "w": 0.055}, {"id": "r22", "a": 8.0, "w": 0.045}, {"id": "r22", "a": 9.5, "w": 0.02}, {"id": "r22", "a": 11.0, "w": 0.005}, {"id": "r22", "a": 14.1, "w": 0.002},
          {"id": "r23", "a": 0.03, "w": 0}, {"id": "r23", "a": 4.0, "w": 0}, {"id": "r23", "a": 5.0, "w": 0.02}, {"id": "r23", "a": 6.0, "w": 0.045}, {"id": "r23", "a": 7.0, "w": 0.065}, {"id": "r23", "a": 8.0, "w": 0.07}, {"id": "r23", "a": 9.0, "w": 0.055}, {"id": "r23", "a": 10.5, "w": 0.02}, {"id": "r23", "a": 12.0, "w": 0.003}, {"id": "r23", "a": 14.1, "w": 0.008},
          {"id": "r24", "a": 0.03, "w": 0}, {"id": "r24", "a": 1.6, "w": 0}, {"id": "r24", "a": 2.0, "w": 0.01}, {"id": "r24", "a": 2.6, "w": 0.03}, {"id": "r24", "a": 3.4, "w": 0.045}, {"id": "r24", "a": 4.3, "w": 0.05}, {"id": "r24", "a": 5.2, "w": 0.055}, {"id": "r24", "a": 6.2, "w": 0.05}, {"id": "r24", "a": 7.5, "w": 0.03}, {"id": "r24", "a": 9.0, "w": 0.012}, {"id": "r24", "a": 11.0, "w": 0}, {"id": "r24", "a": 14.1, "w": 0},
          {"id": "r25", "a": 0.03, "w": 0}, {"id": "r25", "a": 3.5, "w": 0}, {"id": "r25", "a": 4.5, "w": 0.015}, {"id": "r25", "a": 5.5, "w": 0.035}, {"id": "r25", "a": 6.5, "w": 0.055}, {"id": "r25", "a": 7.5, "w": 0.06}, {"id": "r25", "a": 8.5, "w": 0.05}, {"id": "r25", "a": 10.0, "w": 0.02}, {"id": "r25", "a": 11.5, "w": 0.005}, {"id": "r25", "a": 14.1, "w": 0.004},
          {"id": "r26", "a": 0.03, "w": 0}, {"id": "r26", "a": 5.0, "w": 0}, {"id": "r26", "a": 6.0, "w": 0.015}, {"id": "r26", "a": 7.0, "w": 0.03}, {"id": "r26", "a": 8.0, "w": 0.045}, {"id": "r26", "a": 9.0, "w": 0.05}, {"id": "r26", "a": 10.0, "w": 0.04}, {"id": "r26", "a": 11.5, "w": 0.015}, {"id": "r26", "a": 13.0, "w": 0.003}, {"id": "r26", "a": 14.1, "w": 0.015},
          {"id": "r27", "a": 0.03, "w": 0}, {"id": "r27", "a": 2.0, "w": 0}, {"id": "r27", "a": 2.8, "w": 0.01}, {"id": "r27", "a": 3.6, "w": 0.025}, {"id": "r27", "a": 4.6, "w": 0.04}, {"id": "r27", "a": 5.6, "w": 0.05}, {"id": "r27", "a": 6.6, "w": 0.045}, {"id": "r27", "a": 8.0, "w": 0.03}, {"id": "r27", "a": 9.5, "w": 0.012}, {"id": "r27", "a": 11.0, "w": 0}, {"id": "r27", "a": 14.1, "w": 0},
          {"id": "r28", "a": 0.03, "w": 0}, {"id": "r28", "a": 4.0, "w": 0}, {"id": "r28", "a": 5.0, "w": 0.03}, {"id": "r28", "a": 6.0, "w": 0.06}, {"id": "r28", "a": 6.8, "w": 0.068}, {"id": "r28", "a": 7.6, "w": 0.06}, {"id": "r28", "a": 8.6, "w": 0.04}, {"id": "r28", "a": 10.0, "w": 0.015}, {"id": "r28", "a": 12.0, "w": 0.002}, {"id": "r28", "a": 14.1, "w": 0.004},
          {"id": "r29", "a": 0.03, "w": 0}, {"id": "r29", "a": 3.0, "w": 0}, {"id": "r29", "a": 4.0, "w": 0.01}, {"id": "r29", "a": 5.0, "w": 0.025}, {"id": "r29", "a": 6.0, "w": 0.035}, {"id": "r29", "a": 7.5, "w": 0.04}, {"id": "r29", "a": 9.0, "w": 0.035}, {"id": "r29", "a": 10.5, "w": 0.018}, {"id": "r29", "a": 12.0, "w": 0.005}, {"id": "r29", "a": 14.1, "w": 0.01},
          {"id": "r30", "a": 0.03, "w": 0}, {"id": "r30", "a": 4.5, "w": 0}, {"id": "r30", "a": 5.5, "w": 0.025}, {"id": "r30", "a": 6.5, "w": 0.05}, {"id": "r30", "a": 7.5, "w": 0.07}, {"id": "r30", "a": 8.5, "w": 0.072}, {"id": "r30", "a": 9.5, "w": 0.055}, {"id": "r30", "a": 11.0, "w": 0.02}, {"id": "r30", "a": 12.6, "w": 0.004}, {"id": "r30", "a": 14.1, "w": 0.007}
        ]
      },
      "mark": {"type": "line", "color": "red", "opacity": 0.2, "strokeWidth": 5, "strokeJoin": "round"},
      "encoding": {
        "x": {
          "field": "a",
          "type": "quantitative",
          "scale": {"type": "log", "domain": [0.02195, 19.28], "nice": false},
          "axis": {
            "values": [0.03, 0.04, 0.05, 0.06, 0.07, 0.08, 0.09, 0.1, 0.2, 0.3, 0.4, 0.5, 0.6, 0.7, 0.8, 0.9, 1, 2, 3, 4, 5, 6, 7, 8, 9, 10],
            "labelExpr": "datum.value == 0.1 ? '10⁻¹' : datum.value == 1 ? '10⁰' : datum.value == 10 ? '10¹' : ''",
            "labelOverlap": false,
            "labelFlush": false,
            "tickSize": {"condition": {"test": "datum.value == 0.1 || datum.value == 1 || datum.value == 10", "value": 18}, "value": 8},
            "tickWidth": {"condition": {"test": "datum.value == 0.1 || datum.value == 1 || datum.value == 10", "value": 3}, "value": 2.4},
            "title": ["Age (Gyr)", "(a)"],
            "titlePadding": 12,
            "titleLineHeight": 58
          }
        },
        "y": {
          "field": "w",
          "type": "quantitative",
          "scale": {"domain": [-0.022, 0.4565], "nice": false, "zero": false},
          "axis": {"values": [0, 0.1, 0.2, 0.3, 0.4], "format": ".1f", "title": "Weight of template"}
        },
        "detail": {"field": "id", "type": "nominal"}
      }
    },
    {
      "width": 1033,
      "height": 587,
      "data": {
        "values": [
          {"band": "UV", "lo": -1.05, "hi": -0.9, "n": 2},
          {"band": "UV", "lo": -0.9, "hi": -0.75, "n": 10},
          {"band": "UV", "lo": -0.75, "hi": -0.6, "n": 2},
          {"band": "UV", "lo": -0.3, "hi": -0.15, "n": 1},
          {"band": "Hα", "lo": -1.35, "hi": -1.2, "n": 6},
          {"band": "Hα", "lo": -1.2, "hi": -1.05, "n": 7},
          {"band": "Hα", "lo": -1.05, "hi": -0.9, "n": 4},
          {"band": "Hα", "lo": -0.9, "hi": -0.75, "n": 4},
          {"band": "Hα", "lo": -0.75, "hi": -0.6, "n": 3},
          {"band": "Hα", "lo": -0.6, "hi": -0.45, "n": 1},
          {"band": "Hα", "lo": -0.3, "hi": -0.15, "n": 1},
          {"band": "Hα", "lo": 0.3, "hi": 0.45, "n": 1}
        ]
      },
      "mark": {"type": "bar", "stroke": "black", "strokeWidth": 1.8},
      "encoding": {
        "x": {
          "field": "lo",
          "type": "quantitative",
          "scale": {"domain": [-1.598, 0.5485], "nice": false, "zero": false},
          "axis": {"values": [-1.5, -1, -0.5, 0, 0.5], "format": ".1f", "labelFlush": false, "title": ["log( ΣSFR [M⊙ yr⁻¹ kpc⁻²])", "(b)"], "titlePadding": 12, "titleLineHeight": 58}
        },
        "x2": {"field": "hi"},
        "y": {
          "field": "n",
          "type": "quantitative",
          "scale": {"domain": [0, 10.5], "nice": false},
          "axis": {"values": [0, 2, 4, 6, 8, 10], "title": "No. of complexes"}
        },
        "y2": {"datum": 0},
        "color": {
          "field": "band",
          "type": "nominal",
          "scale": {"domain": ["UV", "Hα"], "range": ["blue", "red"]},
          "legend": {
            "title": null,
            "orient": "none",
            "legendX": 826,
            "legendY": 845,
            "labelFontSize": 36,
            "labelColor": "black",
            "symbolType": "M-3,-1H3V1H-3Z",
            "symbolSize": 576,
            "symbolStrokeColor": "black",
            "symbolStrokeWidth": 1.8,
            "symbolOffset": 30,
            "fillColor": "white",
            "strokeColor": "#d0d0d0",
            "cornerRadius": 6,
            "padding": 10,
            "rowPadding": 19,
            "labelOffset": 54
          }
        },
        "opacity": {
          "field": "band",
          "type": "nominal",
          "scale": {"domain": ["UV", "Hα"], "range": [0.6, 0.3]}
        }
      }
    }
  ]
}
